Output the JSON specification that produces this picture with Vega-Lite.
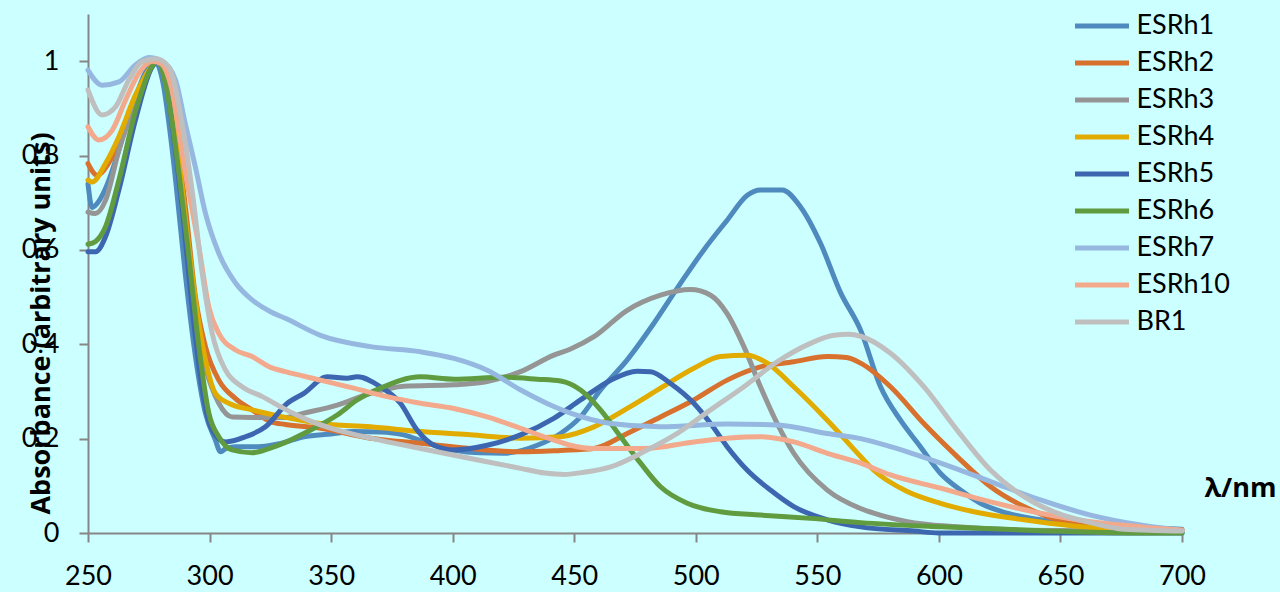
{
"$schema": "https://vega.github.io/schema/vega-lite/v6.json",
"width": 1094,
"height": 519,
"autosize": {"type": "none"},
"padding": {"left": 88, "top": 14, "right": 98, "bottom": 59},
"background": "#CCFFFF",
"config": {"view": {"stroke": null}, "font": "Lato"},
"data": {"values": [
{"s":"ESRh1","x":250,"y":0.74},{"s":"ESRh1","x":251.7,"y":0.69},{"s":"ESRh1","x":254,"y":0.7},{"s":"ESRh1","x":258,"y":0.74},{"s":"ESRh1","x":262,"y":0.8},{"s":"ESRh1","x":266,"y":0.87},{"s":"ESRh1","x":270,"y":0.93},{"s":"ESRh1","x":274,"y":0.98},{"s":"ESRh1","x":277.5,"y":1.0},{"s":"ESRh1","x":281,"y":0.95},{"s":"ESRh1","x":283.5,"y":0.86},{"s":"ESRh1","x":286,"y":0.75},{"s":"ESRh1","x":290,"y":0.55},{"s":"ESRh1","x":294.2,"y":0.374},{"s":"ESRh1","x":298.3,"y":0.254},{"s":"ESRh1","x":302.4,"y":0.197},{"s":"ESRh1","x":304.5,"y":0.172},{"s":"ESRh1","x":307,"y":0.18},{"s":"ESRh1","x":310.7,"y":0.183},{"s":"ESRh1","x":320,"y":0.183},{"s":"ESRh1","x":329.2,"y":0.19},{"s":"ESRh1","x":338.8,"y":0.204},{"s":"ESRh1","x":350,"y":0.21},{"s":"ESRh1","x":359.3,"y":0.215},{"s":"ESRh1","x":370,"y":0.214},{"s":"ESRh1","x":379.9,"y":0.208},{"s":"ESRh1","x":390,"y":0.19},{"s":"ESRh1","x":400.5,"y":0.176},{"s":"ESRh1","x":411,"y":0.17},{"s":"ESRh1","x":421,"y":0.169},{"s":"ESRh1","x":434.8,"y":0.186},{"s":"ESRh1","x":444.4,"y":0.211},{"s":"ESRh1","x":452.6,"y":0.246},{"s":"ESRh1","x":460.8,"y":0.303},{"s":"ESRh1","x":471.8,"y":0.367},{"s":"ESRh1","x":482.7,"y":0.444},{"s":"ESRh1","x":493.7,"y":0.529},{"s":"ESRh1","x":503.3,"y":0.6},{"s":"ESRh1","x":512.9,"y":0.663},{"s":"ESRh1","x":521.2,"y":0.716},{"s":"ESRh1","x":526.6,"y":0.727},{"s":"ESRh1","x":535.5,"y":0.727},{"s":"ESRh1","x":543.1,"y":0.691},{"s":"ESRh1","x":551.3,"y":0.614},{"s":"ESRh1","x":559.5,"y":0.51},{"s":"ESRh1","x":567.8,"y":0.43},{"s":"ESRh1","x":576,"y":0.31},{"s":"ESRh1","x":584.2,"y":0.239},{"s":"ESRh1","x":592.4,"y":0.183},{"s":"ESRh1","x":600.7,"y":0.126},{"s":"ESRh1","x":608.9,"y":0.091},{"s":"ESRh1","x":617.1,"y":0.063},{"s":"ESRh1","x":628.1,"y":0.042},{"s":"ESRh1","x":641.8,"y":0.028},{"s":"ESRh1","x":662.4,"y":0.017},{"s":"ESRh1","x":680,"y":0.012},{"s":"ESRh1","x":700,"y":0.008},
{"s":"ESRh2","x":250,"y":0.783},{"s":"ESRh2","x":253.8,"y":0.758},{"s":"ESRh2","x":258,"y":0.78},{"s":"ESRh2","x":262.7,"y":0.826},{"s":"ESRh2","x":269.5,"y":0.917},{"s":"ESRh2","x":276.4,"y":0.99},{"s":"ESRh2","x":278.5,"y":1.0},{"s":"ESRh2","x":282,"y":0.97},{"s":"ESRh2","x":286,"y":0.85},{"s":"ESRh2","x":290.1,"y":0.69},{"s":"ESRh2","x":294.2,"y":0.5},{"s":"ESRh2","x":298.3,"y":0.395},{"s":"ESRh2","x":303.8,"y":0.324},{"s":"ESRh2","x":310.7,"y":0.285},{"s":"ESRh2","x":317.5,"y":0.261},{"s":"ESRh2","x":325.1,"y":0.236},{"s":"ESRh2","x":331.2,"y":0.23},{"s":"ESRh2","x":345.6,"y":0.222},{"s":"ESRh2","x":366.2,"y":0.201},{"s":"ESRh2","x":386.8,"y":0.19},{"s":"ESRh2","x":407.3,"y":0.179},{"s":"ESRh2","x":427.9,"y":0.172},{"s":"ESRh2","x":444.4,"y":0.175},{"s":"ESRh2","x":458.1,"y":0.179},{"s":"ESRh2","x":471.8,"y":0.211},{"s":"ESRh2","x":485.5,"y":0.246},{"s":"ESRh2","x":499.2,"y":0.282},{"s":"ESRh2","x":512.9,"y":0.324},{"s":"ESRh2","x":526.6,"y":0.352},{"s":"ESRh2","x":540.3,"y":0.363},{"s":"ESRh2","x":554.1,"y":0.374},{"s":"ESRh2","x":562,"y":0.372},{"s":"ESRh2","x":567.8,"y":0.36},{"s":"ESRh2","x":580.1,"y":0.31},{"s":"ESRh2","x":593.8,"y":0.232},{"s":"ESRh2","x":607.5,"y":0.162},{"s":"ESRh2","x":621.3,"y":0.098},{"s":"ESRh2","x":635,"y":0.056},{"s":"ESRh2","x":648.7,"y":0.028},{"s":"ESRh2","x":669.3,"y":0.013},{"s":"ESRh2","x":700,"y":0.007},
{"s":"ESRh3","x":250,"y":0.68},{"s":"ESRh3","x":253,"y":0.677},{"s":"ESRh3","x":257.2,"y":0.705},{"s":"ESRh3","x":262.7,"y":0.811},{"s":"ESRh3","x":269.5,"y":0.91},{"s":"ESRh3","x":276.4,"y":0.99},{"s":"ESRh3","x":278.5,"y":1.0},{"s":"ESRh3","x":282,"y":0.96},{"s":"ESRh3","x":286,"y":0.84},{"s":"ESRh3","x":290,"y":0.65},{"s":"ESRh3","x":294.2,"y":0.458},{"s":"ESRh3","x":298.3,"y":0.352},{"s":"ESRh3","x":303.8,"y":0.275},{"s":"ESRh3","x":309.3,"y":0.246},{"s":"ESRh3","x":317.5,"y":0.245},{"s":"ESRh3","x":331.2,"y":0.245},{"s":"ESRh3","x":338.8,"y":0.254},{"s":"ESRh3","x":352.5,"y":0.271},{"s":"ESRh3","x":366.2,"y":0.296},{"s":"ESRh3","x":379.9,"y":0.311},{"s":"ESRh3","x":400.5,"y":0.314},{"s":"ESRh3","x":414.2,"y":0.321},{"s":"ESRh3","x":427.9,"y":0.342},{"s":"ESRh3","x":441.6,"y":0.377},{"s":"ESRh3","x":448.5,"y":0.39},{"s":"ESRh3","x":458.1,"y":0.416},{"s":"ESRh3","x":471.8,"y":0.472},{"s":"ESRh3","x":485.5,"y":0.504},{"s":"ESRh3","x":497.8,"y":0.516},{"s":"ESRh3","x":506.1,"y":0.504},{"s":"ESRh3","x":512.9,"y":0.465},{"s":"ESRh3","x":519.8,"y":0.395},{"s":"ESRh3","x":526.6,"y":0.31},{"s":"ESRh3","x":533.5,"y":0.232},{"s":"ESRh3","x":540.3,"y":0.169},{"s":"ESRh3","x":554.1,"y":0.091},{"s":"ESRh3","x":567.8,"y":0.052},{"s":"ESRh3","x":573.2,"y":0.042},{"s":"ESRh3","x":587,"y":0.024},{"s":"ESRh3","x":607.5,"y":0.013},{"s":"ESRh3","x":635,"y":0.006},{"s":"ESRh3","x":700,"y":0.003},
{"s":"ESRh4","x":250,"y":0.748},{"s":"ESRh4","x":251.7,"y":0.744},{"s":"ESRh4","x":257.2,"y":0.783},{"s":"ESRh4","x":262.7,"y":0.84},{"s":"ESRh4","x":269.5,"y":0.928},{"s":"ESRh4","x":276.4,"y":0.99},{"s":"ESRh4","x":278.5,"y":1.0},{"s":"ESRh4","x":282,"y":0.97},{"s":"ESRh4","x":286,"y":0.86},{"s":"ESRh4","x":290,"y":0.67},{"s":"ESRh4","x":295.6,"y":0.444},{"s":"ESRh4","x":298.3,"y":0.367},{"s":"ESRh4","x":302.4,"y":0.296},{"s":"ESRh4","x":307.9,"y":0.275},{"s":"ESRh4","x":317.5,"y":0.261},{"s":"ESRh4","x":331.2,"y":0.245},{"s":"ESRh4","x":345.6,"y":0.232},{"s":"ESRh4","x":366.2,"y":0.225},{"s":"ESRh4","x":386.8,"y":0.215},{"s":"ESRh4","x":407.3,"y":0.208},{"s":"ESRh4","x":427.9,"y":0.201},{"s":"ESRh4","x":444.4,"y":0.204},{"s":"ESRh4","x":458.1,"y":0.225},{"s":"ESRh4","x":471.8,"y":0.264},{"s":"ESRh4","x":485.5,"y":0.307},{"s":"ESRh4","x":499.2,"y":0.349},{"s":"ESRh4","x":510.1,"y":0.374},{"s":"ESRh4","x":521.2,"y":0.377},{"s":"ESRh4","x":529.4,"y":0.36},{"s":"ESRh4","x":540.3,"y":0.31},{"s":"ESRh4","x":554.1,"y":0.239},{"s":"ESRh4","x":567.8,"y":0.162},{"s":"ESRh4","x":573.2,"y":0.133},{"s":"ESRh4","x":587,"y":0.088},{"s":"ESRh4","x":600.7,"y":0.063},{"s":"ESRh4","x":614.4,"y":0.045},{"s":"ESRh4","x":635,"y":0.028},{"s":"ESRh4","x":655.5,"y":0.015},{"s":"ESRh4","x":676,"y":0.008},{"s":"ESRh4","x":700,"y":0.005},
{"s":"ESRh5","x":250,"y":0.596},{"s":"ESRh5","x":253.1,"y":0.596},{"s":"ESRh5","x":257.2,"y":0.628},{"s":"ESRh5","x":262.7,"y":0.727},{"s":"ESRh5","x":269.5,"y":0.875},{"s":"ESRh5","x":276.4,"y":0.988},{"s":"ESRh5","x":279,"y":1.0},{"s":"ESRh5","x":282,"y":0.96},{"s":"ESRh5","x":285,"y":0.85},{"s":"ESRh5","x":288.7,"y":0.691},{"s":"ESRh5","x":292.8,"y":0.479},{"s":"ESRh5","x":297,"y":0.303},{"s":"ESRh5","x":301.1,"y":0.218},{"s":"ESRh5","x":306.6,"y":0.193},{"s":"ESRh5","x":314.8,"y":0.204},{"s":"ESRh5","x":323,"y":0.225},{"s":"ESRh5","x":332,"y":0.275},{"s":"ESRh5","x":338.8,"y":0.296},{"s":"ESRh5","x":348.4,"y":0.331},{"s":"ESRh5","x":356.6,"y":0.328},{"s":"ESRh5","x":360.7,"y":0.331},{"s":"ESRh5","x":370.3,"y":0.31},{"s":"ESRh5","x":378.5,"y":0.275},{"s":"ESRh5","x":385.4,"y":0.218},{"s":"ESRh5","x":392.3,"y":0.186},{"s":"ESRh5","x":400.5,"y":0.176},{"s":"ESRh5","x":414.2,"y":0.186},{"s":"ESRh5","x":427.9,"y":0.208},{"s":"ESRh5","x":441.6,"y":0.243},{"s":"ESRh5","x":452.6,"y":0.282},{"s":"ESRh5","x":465,"y":0.324},{"s":"ESRh5","x":475.9,"y":0.343},{"s":"ESRh5","x":481.4,"y":0.342},{"s":"ESRh5","x":489.6,"y":0.317},{"s":"ESRh5","x":499.2,"y":0.275},{"s":"ESRh5","x":506.1,"y":0.232},{"s":"ESRh5","x":512.9,"y":0.183},{"s":"ESRh5","x":521.2,"y":0.133},{"s":"ESRh5","x":530.7,"y":0.091},{"s":"ESRh5","x":540.3,"y":0.056},{"s":"ESRh5","x":554.1,"y":0.028},{"s":"ESRh5","x":567.8,"y":0.013},{"s":"ESRh5","x":590,"y":0.004},{"s":"ESRh5","x":600,"y":0.0},{"s":"ESRh5","x":700,"y":0.0},
{"s":"ESRh6","x":250,"y":0.612},{"s":"ESRh6","x":253.1,"y":0.618},{"s":"ESRh6","x":257.2,"y":0.649},{"s":"ESRh6","x":262.7,"y":0.748},{"s":"ESRh6","x":269.5,"y":0.893},{"s":"ESRh6","x":276.4,"y":0.99},{"s":"ESRh6","x":278.5,"y":1.0},{"s":"ESRh6","x":282,"y":0.95},{"s":"ESRh6","x":287.4,"y":0.762},{"s":"ESRh6","x":291.5,"y":0.585},{"s":"ESRh6","x":295.6,"y":0.395},{"s":"ESRh6","x":299.7,"y":0.254},{"s":"ESRh6","x":303.8,"y":0.204},{"s":"ESRh6","x":309.3,"y":0.176},{"s":"ESRh6","x":317.5,"y":0.17},{"s":"ESRh6","x":324.4,"y":0.179},{"s":"ESRh6","x":331.2,"y":0.192},{"s":"ESRh6","x":338.8,"y":0.211},{"s":"ESRh6","x":352.5,"y":0.25},{"s":"ESRh6","x":360.7,"y":0.282},{"s":"ESRh6","x":370.3,"y":0.307},{"s":"ESRh6","x":386.8,"y":0.331},{"s":"ESRh6","x":400.5,"y":0.326},{"s":"ESRh6","x":421,"y":0.33},{"s":"ESRh6","x":434.8,"y":0.326},{"s":"ESRh6","x":444.4,"y":0.322},{"s":"ESRh6","x":452.6,"y":0.303},{"s":"ESRh6","x":460.8,"y":0.261},{"s":"ESRh6","x":469.1,"y":0.204},{"s":"ESRh6","x":477.3,"y":0.148},{"s":"ESRh6","x":485.5,"y":0.098},{"s":"ESRh6","x":496.5,"y":0.063},{"s":"ESRh6","x":510.2,"y":0.045},{"s":"ESRh6","x":526.6,"y":0.038},{"s":"ESRh6","x":547.2,"y":0.031},{"s":"ESRh6","x":567.8,"y":0.022},{"s":"ESRh6","x":600.7,"y":0.013},{"s":"ESRh6","x":641.8,"y":0.005},{"s":"ESRh6","x":680,"y":0.0},{"s":"ESRh6","x":700,"y":0.0},
{"s":"ESRh7","x":250,"y":0.981},{"s":"ESRh7","x":255.8,"y":0.949},{"s":"ESRh7","x":262.7,"y":0.956},{"s":"ESRh7","x":269.5,"y":0.992},{"s":"ESRh7","x":275,"y":1.008},{"s":"ESRh7","x":280.5,"y":1.0},{"s":"ESRh7","x":286,"y":0.96},{"s":"ESRh7","x":290,"y":0.868},{"s":"ESRh7","x":294.2,"y":0.775},{"s":"ESRh7","x":298.3,"y":0.678},{"s":"ESRh7","x":303.8,"y":0.593},{"s":"ESRh7","x":310.7,"y":0.53},{"s":"ESRh7","x":317.5,"y":0.494},{"s":"ESRh7","x":325.1,"y":0.469},{"s":"ESRh7","x":331.2,"y":0.455},{"s":"ESRh7","x":345.6,"y":0.419},{"s":"ESRh7","x":366.2,"y":0.395},{"s":"ESRh7","x":386.8,"y":0.384},{"s":"ESRh7","x":400.5,"y":0.37},{"s":"ESRh7","x":414.2,"y":0.345},{"s":"ESRh7","x":428,"y":0.303},{"s":"ESRh7","x":441.6,"y":0.268},{"s":"ESRh7","x":448.5,"y":0.254},{"s":"ESRh7","x":465,"y":0.232},{"s":"ESRh7","x":485.5,"y":0.225},{"s":"ESRh7","x":513,"y":0.231},{"s":"ESRh7","x":533.5,"y":0.229},{"s":"ESRh7","x":554,"y":0.211},{"s":"ESRh7","x":567.8,"y":0.2},{"s":"ESRh7","x":580.1,"y":0.183},{"s":"ESRh7","x":600.7,"y":0.148},{"s":"ESRh7","x":621.3,"y":0.109},{"s":"ESRh7","x":641.8,"y":0.07},{"s":"ESRh7","x":662.4,"y":0.038},{"s":"ESRh7","x":683,"y":0.017},{"s":"ESRh7","x":700,"y":0.006},
{"s":"ESRh10","x":250,"y":0.861},{"s":"ESRh10","x":254.4,"y":0.833},{"s":"ESRh10","x":260,"y":0.854},{"s":"ESRh10","x":265.4,"y":0.917},{"s":"ESRh10","x":270.9,"y":0.974},{"s":"ESRh10","x":276.4,"y":1.0},{"s":"ESRh10","x":280,"y":0.995},{"s":"ESRh10","x":284,"y":0.95},{"s":"ESRh10","x":290.1,"y":0.762},{"s":"ESRh10","x":295.6,"y":0.607},{"s":"ESRh10","x":299.7,"y":0.479},{"s":"ESRh10","x":303.8,"y":0.423},{"s":"ESRh10","x":310.7,"y":0.388},{"s":"ESRh10","x":317.5,"y":0.374},{"s":"ESRh10","x":325.1,"y":0.351},{"s":"ESRh10","x":331.2,"y":0.342},{"s":"ESRh10","x":345.6,"y":0.324},{"s":"ESRh10","x":359.3,"y":0.307},{"s":"ESRh10","x":373.1,"y":0.289},{"s":"ESRh10","x":386.8,"y":0.275},{"s":"ESRh10","x":400.5,"y":0.264},{"s":"ESRh10","x":414.2,"y":0.246},{"s":"ESRh10","x":427.9,"y":0.222},{"s":"ESRh10","x":441.6,"y":0.197},{"s":"ESRh10","x":448.5,"y":0.186},{"s":"ESRh10","x":458.1,"y":0.179},{"s":"ESRh10","x":478.6,"y":0.179},{"s":"ESRh10","x":499.2,"y":0.193},{"s":"ESRh10","x":512.9,"y":0.201},{"s":"ESRh10","x":526.6,"y":0.204},{"s":"ESRh10","x":540.3,"y":0.193},{"s":"ESRh10","x":554.1,"y":0.169},{"s":"ESRh10","x":567.8,"y":0.148},{"s":"ESRh10","x":580.1,"y":0.123},{"s":"ESRh10","x":600.7,"y":0.095},{"s":"ESRh10","x":621.3,"y":0.066},{"s":"ESRh10","x":641.8,"y":0.042},{"s":"ESRh10","x":662.4,"y":0.024},{"s":"ESRh10","x":683,"y":0.013},{"s":"ESRh10","x":700,"y":0.006},
{"s":"BR1","x":250,"y":0.939},{"s":"BR1","x":255.8,"y":0.886},{"s":"BR1","x":261.3,"y":0.903},{"s":"BR1","x":266.8,"y":0.96},{"s":"BR1","x":272.3,"y":0.999},{"s":"BR1","x":277.8,"y":1.005},{"s":"BR1","x":283.2,"y":0.988},{"s":"BR1","x":288.7,"y":0.868},{"s":"BR1","x":292.8,"y":0.727},{"s":"BR1","x":297,"y":0.55},{"s":"BR1","x":301.1,"y":0.423},{"s":"BR1","x":306.6,"y":0.345},{"s":"BR1","x":313.4,"y":0.31},{"s":"BR1","x":321.7,"y":0.289},{"s":"BR1","x":331.2,"y":0.262},{"s":"BR1","x":338.8,"y":0.243},{"s":"BR1","x":352.5,"y":0.218},{"s":"BR1","x":366.2,"y":0.201},{"s":"BR1","x":386.8,"y":0.179},{"s":"BR1","x":407.3,"y":0.158},{"s":"BR1","x":427.9,"y":0.137},{"s":"BR1","x":438,"y":0.127},{"s":"BR1","x":446,"y":0.124},{"s":"BR1","x":453,"y":0.128},{"s":"BR1","x":465,"y":0.14},{"s":"BR1","x":478.6,"y":0.172},{"s":"BR1","x":492.4,"y":0.211},{"s":"BR1","x":506.1,"y":0.261},{"s":"BR1","x":519.8,"y":0.31},{"s":"BR1","x":533.5,"y":0.363},{"s":"BR1","x":547.2,"y":0.402},{"s":"BR1","x":556.8,"y":0.419},{"s":"BR1","x":563,"y":0.421},{"s":"BR1","x":567.8,"y":0.417},{"s":"BR1","x":580.1,"y":0.381},{"s":"BR1","x":593.8,"y":0.31},{"s":"BR1","x":607.5,"y":0.218},{"s":"BR1","x":621.3,"y":0.133},{"s":"BR1","x":635,"y":0.077},{"s":"BR1","x":648.7,"y":0.042},{"s":"BR1","x":662.4,"y":0.022},{"s":"BR1","x":676.1,"y":0.008},{"s":"BR1","x":700,"y":0.004}
]},
"mark": {"type": "line", "strokeWidth": 5, "interpolate": "monotone", "strokeCap": "round", "strokeJoin": "round"},
"encoding": {
  "x": {"field": "x", "type": "quantitative",
    "scale": {"domain": [250, 700], "nice": false, "zero": false},
    "axis": {"values": [250,300,350,400,450,500,550,600,650,700], "grid": false, "labelFlush": false,
      "domainColor": "#868686", "domainWidth": 2, "tickColor": "#868686", "tickWidth": 2, "tickSize": 9,
      "labelFontSize": 27, "labelColor": "#000000", "labelPadding": 21, "labelFont": "Lato",
      "title": "λ/nm", "titleFontSize": 27, "titleFont": "Open Sans", "titleFontWeight": "bold", "titleColor": "#000000",
      "titleX": 1152, "titleY": -45, "titleBaseline": "middle", "titleAlign": "center"}},
  "y": {"field": "y", "type": "quantitative",
    "scale": {"domain": [0, 1.1], "nice": false},
    "axis": {"values": [0,0.2,0.4,0.6,0.8,1], "format": "~g", "grid": false, "labelFlush": false,
      "domainColor": "#868686", "domainWidth": 2, "tickColor": "#868686", "tickWidth": 2, "tickSize": 9,
      "labelFontSize": 27, "labelColor": "#000000", "labelPadding": 20, "labelFont": "Lato",
      "title": "Absorbance (arbitrary units)", "titleFontSize": 27, "titleFont": "Open Sans", "titleFontWeight": "bold", "titleColor": "#000000",
      "titleX": -39, "titleY": 309, "titleAngle": -90, "titleBaseline": "alphabetic", "titleAlign": "center"}},
  "color": {"field": "s", "type": "nominal",
    "scale": {"domain": ["ESRh1","ESRh2","ESRh3","ESRh4","ESRh5","ESRh6","ESRh7","ESRh10","BR1"],
      "range": ["#4F8ABE","#D8712E","#959595","#E1AB00","#3D66B0","#619B40","#96B8E0","#F2A98C","#BFBFBF"]},
    "legend": {"orient": "none", "legendX": 998, "legendY": -4, "title": null,
      "symbolType": "M-2,0H2", "symbolSize": 729, "symbolStrokeWidth": 5,
      "labelFontSize": 27, "labelColor": "#000000", "labelOffset": 18.5, "labelFont": "Lato",
      "rowPadding": 8.0}}
}
}
